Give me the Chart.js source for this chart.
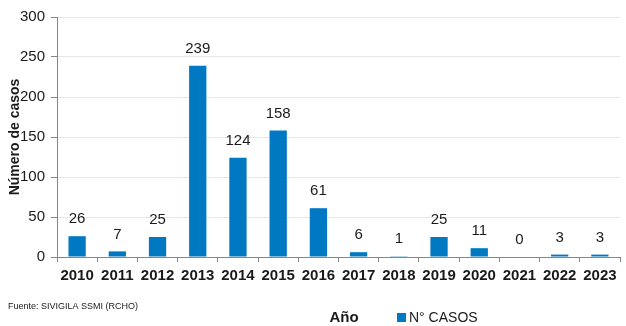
<!DOCTYPE html>
<html>
<head>
<meta charset="utf-8">
<script src="https://cdn.jsdelivr.net/npm/chart.js"></script>
<style>
  html, body { margin: 0; padding: 0; background: #fff; }
  #wrap { width: 626px; height: 326px; }
</style>
</head>
<body>
<div id="wrap"><canvas id="myChart" width="626" height="326"></canvas></div>
<script>
// Chart data
const years = ['2010', '2011', '2012', '2013', '2014', '2015', '2016', '2017', '2018', '2019', '2020', '2021', '2022', '2023'];
const casos = [26, 7, 25, 239, 124, 158, 61, 6, 1, 25, 11, 0, 3, 3];
const seriesLabel = 'N° CASOS';
const yTitle = 'Número de casos';
const xTitle = 'Año';
const sourceNote = 'Fuente: SIVIGILA SSMI (RCHO)';

const barColor = '#0079C2';
const textColor = '#1a1a1a';
const font = "'Liberation Sans', Arial, sans-serif";

// Draws values above the bars, y title, x title, legend and source note
const extras = {
    id: 'extras',
    afterDatasetsDraw(chart) {
        const ctx = chart.ctx;
        const meta = chart.getDatasetMeta(0);
        ctx.save();
        ctx.fillStyle = textColor;
        ctx.font = '15px ' + font;
        ctx.textAlign = 'center';
        ctx.textBaseline = 'middle';
        meta.data.forEach((bar, i) => {
            ctx.fillText(String(casos[i]), bar.x, bar.y - 17);
        });

        const area = chart.chartArea;
        // y axis title
        ctx.save();
        ctx.translate(15, (area.top + area.bottom) / 2);
        ctx.rotate(-Math.PI / 2);
        ctx.font = 'bold 14px ' + font;
        ctx.fillText(yTitle, 0, 0);
        ctx.restore();

        // x axis title
        ctx.font = 'bold 15px ' + font;
        ctx.fillText(xTitle, 344, 318);

        // legend
        ctx.fillStyle = barColor;
        ctx.fillRect(397, 313, 9, 9);
        ctx.fillStyle = textColor;
        ctx.font = '14px ' + font;
        ctx.textAlign = 'left';
        ctx.fillText(seriesLabel, 409, 318);

        // source note
        ctx.font = '9px ' + font;
        ctx.fillText(sourceNote, 8, 307);
        ctx.restore();
    }
};

function createChart() {
    const ctx = document.getElementById('myChart').getContext('2d');
    new Chart(ctx, {
        type: 'bar',
        data: {
            labels: years,
            datasets: [{
                label: seriesLabel,
                data: casos,
                backgroundColor: barColor,
                borderWidth: 0,
                categoryPercentage: 1.0,
                barPercentage: 0.43
            }]
        },
        options: {
            responsive: false,
            animation: false,
            layout: { padding: { top: 17, right: 6, left: 0, bottom: 0 } },
            plugins: {
                legend: { display: false },
                tooltip: { enabled: false }
            },
            scales: {
                x: {
                    afterFit: (scale) => { scale.height = 69; },
                    grid: {
                        drawOnChartArea: false,
                        drawTicks: true,
                        tickLength: 5,
                        color: '#868686',
                        offset: true
                    },
                    border: { color: '#868686' },
                    ticks: {
                        color: textColor,
                        font: { family: font, size: 15, weight: 'bold' },
                        padding: 5,
                        maxRotation: 0,
                        autoSkip: false
                    }
                },
                y: {
                    min: 0,
                    max: 300,
                    afterFit: (scale) => { scale.width = 57; },
                    grid: {
                        drawOnChartArea: true,
                        drawTicks: true,
                        tickLength: 6,
                        color: '#E6E6E6',
                        tickColor: '#868686'
                    },
                    border: { color: '#868686' },
                    ticks: {
                        stepSize: 50,
                        color: textColor,
                        font: { family: font, size: 15 },
                        padding: 6
                    }
                }
            }
        },
        plugins: [extras]
    });
}

createChart();
</script>
</body>
</html>
